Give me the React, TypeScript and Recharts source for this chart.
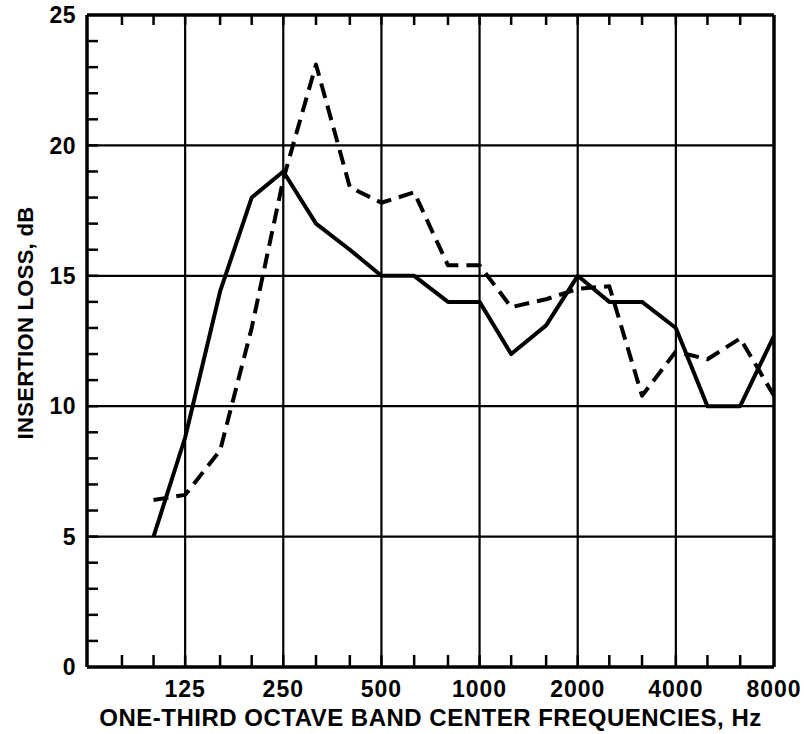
import React from 'react';
import { LineChart, Line, XAxis, YAxis, ReferenceLine } from 'recharts';

// one-third octave band centers (Hz)
const bands = [100, 125, 160, 200, 250, 315, 400, 500, 630, 800, 1000, 1250, 1600, 2000, 2500, 3150, 4000, 5000, 6300, 8000];
// insertion loss, dB
const solidLoss = [5.0, 8.8, 14.4, 18.0, 19.0, 17.0, 16.0, 15.0, 15.0, 14.0, 14.0, 12.0, 13.1, 15.0, 14.0, 14.0, 13.0, 10.0, 10.0, 12.7];
const dashedLoss = [6.4, 6.6, 8.3, 13.0, 18.7, 23.1, 18.4, 17.8, 18.2, 15.4, 15.4, 13.8, 14.1, 14.5, 14.6, 10.4, 12.1, 11.8, 12.6, 10.4];

const freqTicks = [80, 100, 125, 160, 200, 250, 315, 400, 500, 630, 800, 1000, 1250, 1600, 2000, 2500, 3150, 4000, 5000, 6300];
const freqLabels = [125, 250, 500, 1000, 2000, 4000, 8000];
const freqGrid = [125, 250, 500, 1000, 2000, 4000];
const lossTicks = [0, 1, 2, 3, 4, 5, 6, 7, 8, 9, 10, 11, 12, 13, 14, 15, 16, 17, 18, 19, 20, 21, 22, 23, 24, 25];
const lossLabels = [0, 5, 10, 15, 20, 25];
const lossGrid = [5, 10, 15, 20];

const data = bands.map((f, i) => ({ f, solid: solidLoss[i], dashed: dashedLoss[i] }));

const FONT = '"Liberation Sans", Arial, sans-serif';
const INK = '#000';

const BottomTick = (props: any) => {
  const { x, y, payload } = props;
  const v = payload.value;
  return (
    <g>
      {v < 8000 && <line x1={x} x2={x} y1={y} y2={y - 12} stroke={INK} strokeWidth={2.5} />}
      {freqLabels.includes(v) && (
        <text x={x} y={y + 30} textAnchor="middle" fontFamily={FONT} fontWeight="bold" fontSize={23} letterSpacing={1} fill={INK}>
          {v}
        </text>
      )}
    </g>
  );
};

const TopTick = (props: any) => {
  const { x, y } = props;
  return <line x1={x} x2={x} y1={y} y2={y + 10} stroke={INK} strokeWidth={2.5} />;
};

const LeftTick = (props: any) => {
  const { x, y, payload } = props;
  const v = payload.value;
  return (
    <g>
      {v > 0 && v < 25 && <line x1={x} x2={x + 11} y1={y} y2={y} stroke={INK} strokeWidth={2.5} />}
      {lossLabels.includes(v) && (
        <text x={x - 11} y={y} dy="0.36em" textAnchor="end" fontFamily={FONT} fontWeight="bold" fontSize={23} letterSpacing={0.5} fill={INK}>
          {v}
        </text>
      )}
    </g>
  );
};

const RightTick = (props: any) => {
  const { x, y, payload } = props;
  const v = payload.value;
  if (v <= 0 || v >= 25) return <g />;
  return <line x1={x} x2={x - 12} y1={y} y2={y} stroke={INK} strokeWidth={2.5} />;
};

const XTitle = (props: any) => {
  const vb = props.viewBox;
  return (
    <text x={vb.x + vb.width / 2} y={vb.y + 59} textAnchor="middle" fontFamily={FONT} fontWeight="bold" fontSize={24} letterSpacing={0.5} fill={INK}>
      ONE-THIRD OCTAVE BAND CENTER FREQUENCIES, Hz
    </text>
  );
};

const YTitle = (props: any) => {
  const vb = props.viewBox;
  const cx = vb.x + vb.width - 62;
  const cy = vb.y + vb.height / 2 - 18;
  return (
    <text x={cx} y={cy} dy="0.36em" textAnchor="middle" transform={`rotate(-90 ${cx} ${cy})`} fontFamily={FONT} fontWeight="bold" fontSize={22} letterSpacing={0.3} fill={INK}>
      INSERTION LOSS, dB
    </text>
  );
};

export default function App() {
  return (
    <div style={{ position: 'absolute', left: 0, top: 0, background: '#fff' }}>
      <LineChart width={804} height={734} data={data} margin={{ top: 14, right: 29, bottom: 66, left: 86 }}>
        <XAxis
          dataKey="f"
          type="number"
          scale="log"
          domain={[62.5, 8000]}
          allowDataOverflow
          ticks={[...freqTicks, 8000]}
          interval={0}
          height={1}
          tickSize={0}
          tickMargin={0}
          tickLine={false}
          tick={<BottomTick />}
          axisLine={{ stroke: INK, strokeWidth: 3.5 }}
          label={<XTitle />}
        />
        <XAxis
          xAxisId="top"
          orientation="top"
          dataKey="f"
          type="number"
          scale="log"
          domain={[62.5, 8000]}
          allowDataOverflow
          ticks={freqTicks}
          interval={0}
          height={1}
          tickSize={0}
          tickMargin={0}
          tickLine={false}
          tick={<TopTick />}
          axisLine={{ stroke: INK, strokeWidth: 3.5 }}
        />
        <YAxis
          type="number"
          domain={[0, 25]}
          ticks={lossTicks}
          interval={0}
          width={1}
          tickSize={0}
          tickMargin={0}
          tickLine={false}
          tick={<LeftTick />}
          axisLine={{ stroke: INK, strokeWidth: 3.5 }}
          label={<YTitle />}
        />
        <YAxis
          yAxisId="right"
          orientation="right"
          type="number"
          domain={[0, 25]}
          ticks={lossTicks}
          interval={0}
          width={1}
          tickSize={0}
          tickMargin={0}
          tickLine={false}
          tick={<RightTick />}
          axisLine={{ stroke: INK, strokeWidth: 3.5 }}
        />
        {lossGrid.map((v) => (
          <ReferenceLine key={`h${v}`} y={v} stroke={INK} strokeWidth={2.2} />
        ))}
        {freqGrid.map((f) => (
          <ReferenceLine key={`v${f}`} x={f} stroke={INK} strokeWidth={2.2} />
        ))}
        <Line dataKey="solid" stroke={INK} strokeWidth={4} dot={false} isAnimationActive={false} strokeLinejoin="round" />
        <Line dataKey="dashed" stroke={INK} strokeWidth={4} strokeDasharray="15 8" dot={false} isAnimationActive={false} strokeLinejoin="round" />
      </LineChart>
    </div>
  );
}
